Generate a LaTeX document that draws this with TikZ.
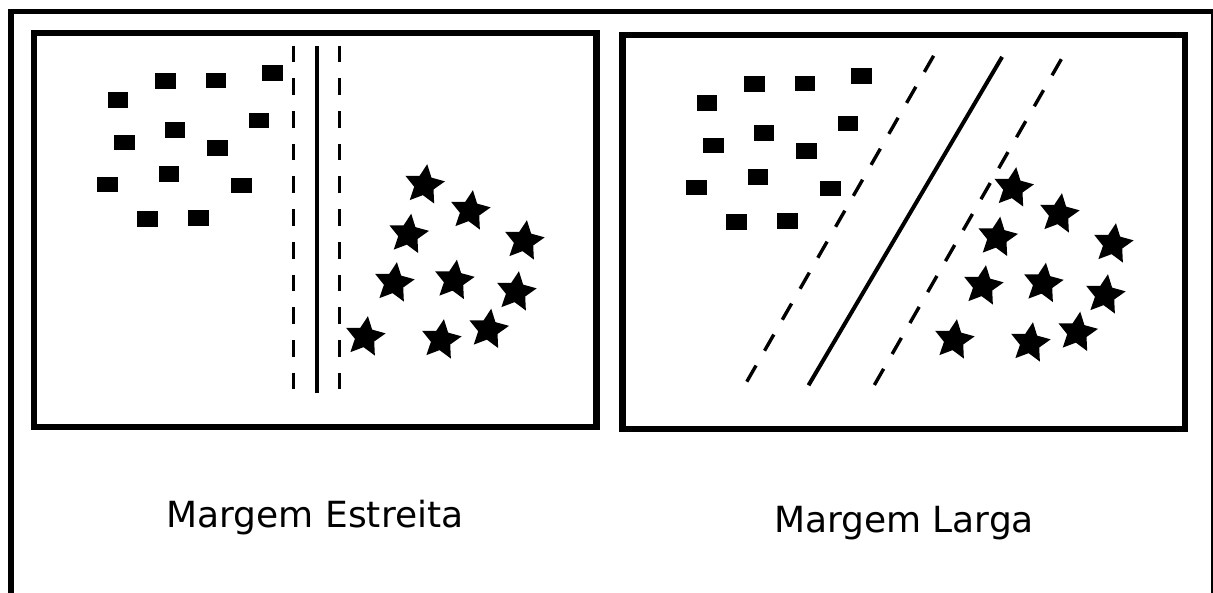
\documentclass[tikz,border=0pt]{standalone}
\usepackage{fontspec}
\setmainfont{DejaVu Sans}
\usetikzlibrary{shapes.geometric}

\begin{document}
\begin{tikzpicture}[
    x=0.5pt, y=-0.5pt,
    frame/.style={line width=2.9pt},
    panel/.style={line width=3.3pt},
    sqr/.style={fill=black, inner sep=0pt, minimum width=10.35pt, minimum height=7.65pt},
    strpt/.style={star, star points=5, star point ratio=2.05, fill=black,
      inner sep=0pt, minimum size=21pt, rotate=-8},
    hyper/.style={line width=2pt},
    margin/.style={line width=1.7pt, dash pattern=on 8.35pt off 8pt},
    slantmargin/.style={line width=1.7pt, dash pattern=on 9.3pt off 8.55pt},
    lbl/.style={font=\fontsize{18pt}{22pt}\selectfont, inner sep=0pt, anchor=base}
  ]
  \useasboundingbox (0,0) rectangle (1213,593);
  \clip (0,0) rectangle (1213,593);

  % Outer frame and the two panels
  \draw[frame] (10.7,11.5) rectangle (1213.5,595.5);
  \draw[panel] (34,33) rectangle (596.3,427);
  \draw[panel] (622.7,35) rectangle (1185,429);

  % Points of both classes, same cloud in each panel
  \foreach \p/\dx/\dy in {n/0/0, w/589/3} {
    \foreach \x/\y [count=\i] in {165.5/81, 216/80.7, 272.5/73, 118/100,
        259/120.3, 175/130, 124.8/142.3, 217.7/148, 169/174, 107.7/184.3,
        241.3/185.3, 147.3/219, 198.3/218}
      \node[sqr] (\p-sq\i) at (\x+\dx,\y+\dy) {};
    \foreach \x/\y [count=\i] in {424.3/185, 470/211, 408.3/234.5, 524/241,
        394/283, 454/280.5, 516/292, 365/337, 441/340, 488.3/329.5}
      \node[strpt] (\p-st\i) at (\x+\dx,\y+\dy) {};
  }

  % Narrow margin
  \coordinate (n-lt) at (293.5,45.7);
  \coordinate (n-lb) at (293.5,390);
  \coordinate (n-mt) at (316.7,45.7);
  \coordinate (n-mb) at (316.7,393.3);
  \coordinate (n-rt) at (339.7,45.7);
  \coordinate (n-rb) at (339.7,390);
  \draw[margin] (n-lt) -- (n-lb);
  \draw[hyper] (n-mt) -- (n-mb);
  \draw[margin] (n-rt) -- (n-rb);

  % Wide margin
  \coordinate (w-lt) at (933.6,55.8);
  \coordinate (w-lb) at (746.6,382);
  \coordinate (w-mt) at (1002.1,56.9);
  \coordinate (w-mb) at (808.5,385.3);
  \coordinate (w-rt) at (1061.3,59.2);
  \coordinate (w-rb) at (873.6,386.3);
  \draw[slantmargin] (w-lt) -- (w-lb);
  \draw[hyper] (w-mt) -- (w-mb);
  \draw[slantmargin] (w-rt) -- (w-rb);

  % Captions
  \node[lbl] (narrow) at (315,527) {Margem Estreita};
  \node[lbl] (wide) at (904,532) {Margem Larga};
\end{tikzpicture}
\end{document}
